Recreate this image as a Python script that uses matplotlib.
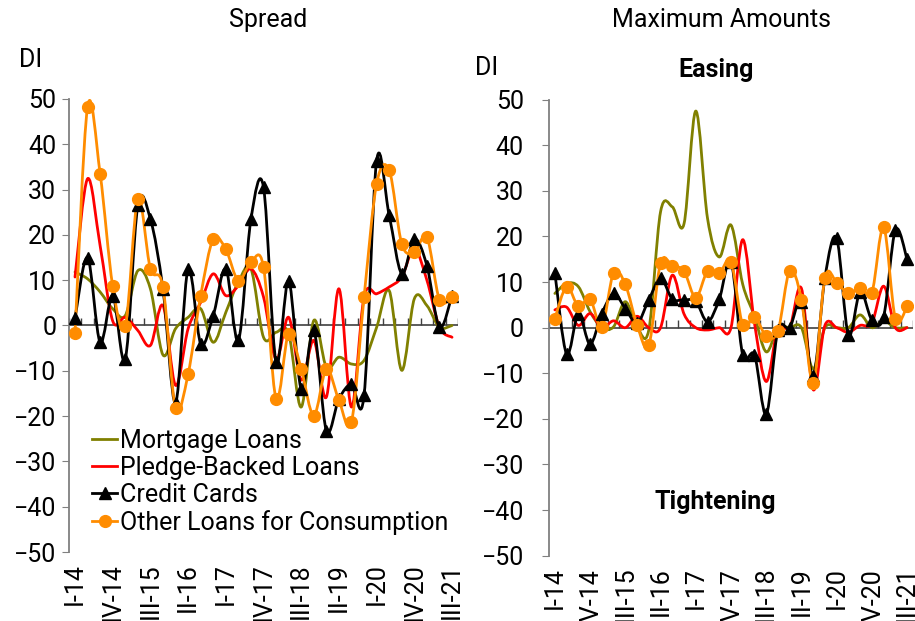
import numpy as np
import matplotlib
matplotlib.use("Agg")
import matplotlib.pyplot as plt
from matplotlib.path import Path
from matplotlib.patches import PathPatch
from matplotlib.lines import Line2D

plt.rcParams["font.family"] = ["Roboto", "DejaVu Sans"]
plt.rcParams["font.size"] = 18

# quarters I-14 ... III-21
romans = ["I", "II", "III", "IV"]
quarters = ["%s-%d" % (romans[q], y) for y in range(14, 22) for q in range(4)][:31]

# Spread (DI)
mortgage_spread = [11.8, 10.3, 7.4, 3.7, 2.2, 12.1, 8.1, -6.5, -0.7, 1.8, 3.7, -3.7, 2.9, 9.6, 12.5,
                   -2.6, -1.5, -1.8, -18.0, 1.1, -9.2, -7.0, -8.5, -7.7, -0.4, 7.7, -9.9, 5.9, 4.4, -0.4, 0.0]
pledge_spread = [10.7, 32.4, 17.6, 1.0, 1.8, -1.1, -4.4, 4.4, -13.2, -0.7, 5.1, 11.4, 6.6, 8.8, 12.5,
                 6.3, -7.5, 1.8, -12.0, -3.3, -15.8, 8.1, -18.0, 6.3, 7.0, 8.5, 10.7, 17.0, 10.0, -0.4, -2.6]
credit_spread = [1.6, 15.0, -3.7, 6.6, -7.4, 26.5, 23.5, 8.0, -17.0, 12.5, -4.0, 2.2, 12.5, -3.3, 23.5,
                 30.5, -8.1, 9.9, -14.0, -1.1, -23.2, -16.2, -12.9, -15.4, 36.4, 24.3, 11.4, 19.1, 13.2, -0.4, 6.6]
other_spread = [-1.7, 48.3, 33.5, 8.7, -0.2, 27.9, 12.5, 8.5, -18.2, -10.7, 6.6, 19.1, 16.8, 9.9, 14.0,
                12.9, -16.2, -1.8, -9.6, -19.9, -9.6, -16.5, -21.3, 6.3, 31.3, 34.3, 18.0, 16.2, 19.5, 5.7, 6.3]

# Maximum amounts (DI)
mortgage_max = [7.5, 9.7, 9.0, 3.5, 0.0, 0.2, 5.7, 0.2, -0.5, 25.4, 26.5, 22.8, 47.5, 24.0, 15.5,
                22.5, 9.5, 2.5, -5.3, 0.0, 0.0, 0.0, -9.0, 0.0, 0.0, 0.0, 2.8, 0.0, 1.5, 0.0, 0.0]
pledge_max = [3.9, 4.5, 0.5, 3.1, 0.0, 1.5, 0.0, 2.5, 0.0, 0.0, 11.5, 3.0, 0.0, -0.5, 0.0,
              0.0, 19.3, 1.0, -11.8, 0.0, 0.0, 8.6, -13.6, 0.5, 0.0, -1.0, 0.5, 1.0, 9.1, 0.0, 0.0]
credit_max = [12.0, -5.8, 3.0, -3.6, 3.1, 7.5, 4.2, 1.0, 6.1, 10.8, 6.3, 6.1, 5.8, 1.3, 6.2,
              14.5, -6.0, -6.0, -19.0, -0.5, 0.0, 5.7, -10.7, 11.0, 19.6, -1.6, 7.9, 1.7, 2.4, 21.4, 15.0]
other_max = [2.0, 9.0, 4.7, 6.3, 0.2, 12.0, 9.5, 0.6, -3.9, 14.2, 13.6, 12.4, 6.6, 12.4, 11.9,
             14.5, 0.6, 2.4, -1.8, -0.7, 12.5, 6.1, -12.2, 10.9, 9.9, 7.5, 8.8, 7.7, 22.0, 2.0, 4.7]

names = ["Mortgage Loans", "Pledge-Backed Loans", "Credit Cards", "Other Loans for Consumption"]
colors = ["#808000", "#FF0000", "#000000", "#FF8C00"]
markers = [None, None, "^", "o"]


def smooth_path(x, y):
    # bezier curve through the points, like the spreadsheet "smoothed line"
    n = len(x)
    verts = [(x[0], y[0])]
    codes = [Path.MOVETO]
    for i in range(n - 1):
        a = max(i - 1, 0)
        b = min(i + 2, n - 1)
        c1 = (x[i] + (x[i + 1] - x[a]) / 6.0, y[i] + (y[i + 1] - y[a]) / 6.0)
        c2 = (x[i + 1] - (x[b] - x[i]) / 6.0, y[i + 1] - (y[b] - y[i]) / 6.0)
        verts += [c1, c2, (x[i + 1], y[i + 1])]
        codes += [Path.CURVE4] * 3
    return Path(verts, codes)


def draw_panel(ax, series, ylabel_pad):
    x = np.arange(len(quarters))
    for vals, c, m in zip(series, colors, markers):
        ax.add_patch(PathPatch(smooth_path(x, vals), fill=False, ec=c, lw=2.0,
                               capstyle="round", joinstyle="round", zorder=3))
        if m:
            ax.plot(x, vals, ls="none", marker=m, ms=8.5, color=c, zorder=4)
    ax.set_xlim(-0.5, len(quarters) - 0.5)
    ax.set_ylim(-50, 50)
    ax.set_yticks(range(-50, 51, 10))
    ax.axhline(0, color="#404040", lw=1.2, zorder=2)
    bounds = np.arange(len(quarters) + 1) - 0.5
    ax.vlines(bounds, 0, 1.6, color="#404040", lw=1.0, zorder=2)
    for s in ["top", "right", "bottom"]:
        ax.spines[s].set_visible(False)
    ax.spines["left"].set_color("#808080")
    ax.spines["left"].set_linewidth(1.3)
    ax.tick_params(axis="y", direction="out", length=5, color="#808080", pad=ylabel_pad)
    ax.set_xticks(x[::3])
    ax.set_xticklabels(quarters[::3], rotation=90)
    ax.tick_params(axis="x", length=0, pad=8)


fig = plt.figure(figsize=(9.15, 6.21), dpi=100)
ax1 = fig.add_axes((0.0751, 0.1111, 0.4258, 0.7295))
ax2 = fig.add_axes((0.6, 0.1052, 0.3978, 0.7343))

draw_panel(ax1, [mortgage_spread, pledge_spread, credit_spread, other_spread], 4)
draw_panel(ax2, [mortgage_max, pledge_max, credit_max, other_max], 13)

fig.text(0.293, 0.967, "Spread", ha="center", va="center")
fig.text(0.788, 0.967, "Maximum Amounts", ha="center", va="center")
fig.text(0.033, 0.903, "DI", ha="center", va="center")
fig.text(0.532, 0.89, "DI", ha="center", va="center")
ax2.text(0.46, 1.065, "Easing", transform=ax2.transAxes, ha="center", va="center", fontweight="bold")
ax2.text(0.456, 0.118, "Tightening", transform=ax2.transAxes, ha="center", va="center", fontweight="bold")

handles = [Line2D([], [], color=c, lw=2.0, marker=m, ms=8.5) for c, m in zip(colors, markers)]
ax1.legend(handles, names, loc="lower left", bbox_to_anchor=(0.015, 0.0), frameon=False,
           handlelength=1.0, handletextpad=0.1, labelspacing=0.12, borderpad=0.2)

fig.savefig("out.png", dpi=100)
